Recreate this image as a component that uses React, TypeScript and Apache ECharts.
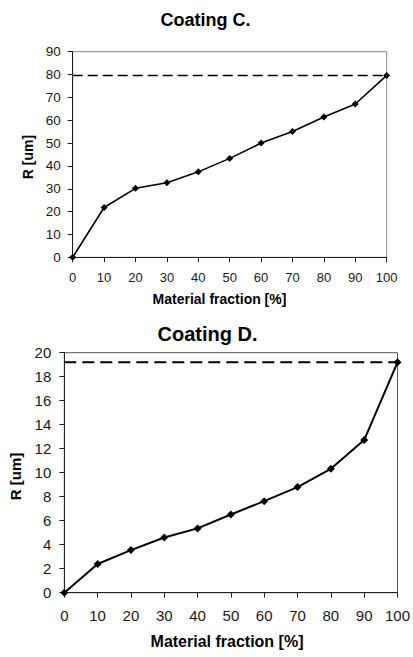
import React, { useEffect, useRef } from "react";
import * as echarts from "echarts";

const fractions = [0, 10, 20, 30, 40, 50, 60, 70, 80, 90, 100];
const coatingC = [0, 21.8, 30.2, 32.6, 37.4, 43.3, 50, 55.1, 61.4, 67.1, 79.6];
const coatingD = [0, 2.39, 3.55, 4.6, 5.36, 6.52, 7.63, 8.8, 10.32, 12.72, 19.2];
const limitC = 79.6;
const limitD = 19.2;
const titles = ["Coating C.", "Coating D."];
const xName = "Material fraction [%]";
const yName = "R [um]";

const FONT = "'Liberation Sans', Arial, sans-serif";

export default function App() {
  const ref = useRef<HTMLDivElement>(null);
  useEffect(() => {
    if (!ref.current) return;
    const chart = echarts.init(ref.current, null, { renderer: "svg" });
    const xAxisBase = (fs: number, margin: number) => ({
      type: "value",
      min: 0,
      max: 100,
      interval: 10,
      axisLine: { show: true, lineStyle: { color: "#222", width: 1 } },
      axisTick: { show: true, inside: false, length: 5, lineStyle: { color: "#222" } },
      axisLabel: { fontFamily: FONT, fontSize: fs, color: "#1a1a1a", margin },
      splitLine: { show: false },
    });
    const yAxisBase = (max: number, interval: number, fs: number, margin: number) => ({
      type: "value",
      min: 0,
      max,
      interval,
      axisLine: { show: true, lineStyle: { color: "#222", width: 1 } },
      axisTick: { show: true, inside: false, length: 5, lineStyle: { color: "#222" } },
      axisLabel: { fontFamily: FONT, fontSize: fs, color: "#1a1a1a", margin },
      splitLine: { show: false },
    });
    const seriesFor = (idx: number, vals: number[], limit: number, lw: number, dash: number[], ms: number) => [
      {
        type: "line",
        xAxisIndex: idx,
        yAxisIndex: idx,
        data: fractions.map((f, i) => [f, vals[i]]),
        symbol: "diamond",
        symbolSize: ms,
        itemStyle: { color: "#000" },
        lineStyle: { color: "#000", width: lw },
        z: 5,
      },
      {
        type: "line",
        xAxisIndex: idx,
        yAxisIndex: idx,
        data: [
          [0, limit],
          [100, limit],
        ],
        symbol: "none",
        lineStyle: { color: "#000", width: lw, type: dash },
        z: 4,
      },
    ];
    chart.setOption({
      animation: false,
      backgroundColor: "#fff",
      title: [
        {
          text: titles[0],
          left: 200.5,
          top: 6,
          textAlign: "center",
          textStyle: { fontFamily: FONT, fontSize: 18, fontWeight: "bold", color: "#000" },
        },
        {
          text: titles[1],
          left: 202.5,
          top: 319,
          textAlign: "center",
          textStyle: { fontFamily: FONT, fontSize: 20, fontWeight: "bold", color: "#000" },
        },
      ],
      grid: [
        { left: 72.7, top: 51.7, width: 314, height: 205.6, show: true, borderColor: "#888", borderWidth: 1 },
        { left: 64.3, top: 352.7, width: 335.7, height: 240, show: true, borderColor: "#555", borderWidth: 1 },
      ],
      xAxis: [
        { ...xAxisBase(13, 14), gridIndex: 0 },
        { ...xAxisBase(15, 15), gridIndex: 1 },
      ],
      yAxis: [
        { ...yAxisBase(90, 10, 13.5, 12), gridIndex: 0 },
        { ...yAxisBase(20, 2, 15, 13), gridIndex: 1 },
      ],
      graphic: [
        {
          type: "text",
          x: 219.5,
          y: 299,
          style: { text: xName, fontFamily: FONT, fontSize: 14, fontWeight: "bold", fill: "#000", align: "center", verticalAlign: "middle" },
        },
        {
          type: "text",
          x: 227,
          y: 641.5,
          style: { text: xName, fontFamily: FONT, fontSize: 16, fontWeight: "bold", fill: "#000", align: "center", verticalAlign: "middle" },
        },
        {
          type: "text",
          x: 28,
          y: 157,
          rotation: Math.PI / 2,
          style: { text: yName, fontFamily: FONT, fontSize: 14, fontWeight: "bold", fill: "#000", align: "center", verticalAlign: "middle" },
        },
        {
          type: "text",
          x: 15.5,
          y: 476.5,
          rotation: Math.PI / 2,
          style: { text: yName, fontFamily: FONT, fontSize: 15, fontWeight: "bold", fill: "#000", align: "center", verticalAlign: "middle" },
        },
      ],
      series: [
        ...seriesFor(0, coatingC, limitC, 1.6, [10, 5], 7),
        ...seriesFor(1, coatingD, limitD, 2, [12, 6], 8),
      ],
    });
    return () => chart.dispose();
  }, []);
  return <div ref={ref} style={{ position: "fixed", left: 0, top: 0, width: 413, height: 657 }} />;
}
